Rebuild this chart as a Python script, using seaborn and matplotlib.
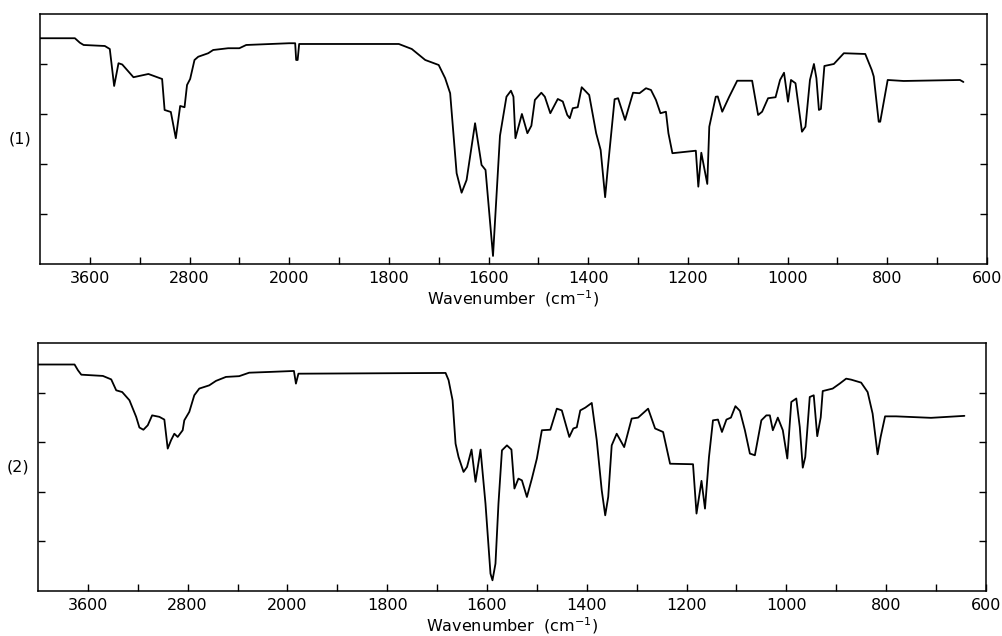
# %% Imports

import matplotlib.pyplot as plt
import numpy as np
import pandas as pd
import seaborn as sns

# %% Spectra (wavenumber in cm-1, transmittance in %)

W1 = [4000, 3720, 3680, 3650, 3480, 3440, 3405, 3370, 3340, 3250, 3130, 3020,
      3000, 2950, 2910, 2875, 2840, 2820, 2795, 2760, 2730, 2650, 2610, 2490,
      2400, 2345, 2000, 1988, 1986, 1983, 1980, 1780, 1754, 1727, 1700, 1687,
      1677, 1664, 1654, 1644, 1627, 1614, 1606, 1591, 1577, 1564, 1555, 1550,
      1546, 1533, 1522, 1514, 1507, 1494, 1487, 1476, 1461, 1451, 1442, 1437,
      1431, 1421, 1413, 1398, 1384, 1375, 1366, 1361, 1347, 1340, 1326, 1310,
      1297, 1284, 1274, 1264, 1255, 1244, 1239, 1231, 1184, 1179, 1173, 1161,
      1157, 1144, 1140, 1131, 1117, 1101, 1071, 1059, 1051, 1039, 1024, 1015,
      1007, 999, 993, 984, 971, 964, 955, 947, 942, 937, 933, 926, 907, 887,
      844, 831, 827, 817, 814, 799, 767, 654, 647]
T1 = [90.3, 90.3, 88.5, 87.6, 87.2, 86.0, 71.2, 80.3, 79.8, 74.7, 76.0, 74.0,
      61.6, 60.8, 50.3, 63.2, 62.7, 71.6, 74.0, 81.6, 82.9, 84.3, 85.6, 86.3,
      86.3, 87.6, 88.3, 88.3, 81.6, 81.6, 88.0, 88.0, 86.0, 81.6, 79.6, 74.3,
      68.3, 36.3, 28.5, 33.6, 56.3, 39.6, 37.6, 3.2, 51.3, 66.9, 69.3, 66.9,
      50.3, 60.0, 52.3, 55.3, 65.6, 68.5, 66.9, 60.3, 66.0, 65.0, 59.6, 58.3,
      62.3, 62.7, 70.7, 67.6, 52.3, 45.6, 26.7, 37.6, 65.9, 66.3, 57.6, 68.5,
      68.3, 70.3, 69.6, 65.6, 60.3, 60.9, 52.3, 44.3, 45.3, 30.9, 44.5, 32.0,
      54.9, 66.9, 67.0, 60.9, 66.9, 73.3, 73.3, 59.6, 60.9, 66.3, 66.7, 73.6,
      76.5, 64.9, 73.6, 72.3, 52.9, 54.9, 73.6, 80.0, 74.3, 61.6, 62.0, 79.2,
      80.0, 84.3, 84.0, 77.6, 75.0, 56.9, 56.9, 73.6, 73.2, 73.6, 72.8]

W2 = [4000, 3707, 3680, 3653, 3480, 3413, 3373, 3325, 3267, 3213, 3187, 3155,
      3120, 3085, 3027, 2987, 2960, 2933, 2907, 2880, 2840, 2827, 2787, 2747,
      2707, 2627, 2573, 2493, 2387, 2307, 2147, 1987, 1983, 1978, 1683, 1677,
      1669, 1663, 1657, 1647, 1640, 1631, 1623, 1613, 1603, 1593, 1589, 1583,
      1577, 1570, 1560, 1551, 1545, 1537, 1530, 1520, 1510, 1500, 1490, 1473,
      1460, 1450, 1435, 1427, 1420, 1413, 1403, 1390, 1380, 1370, 1363, 1357,
      1350, 1340, 1325, 1310, 1297, 1277, 1263, 1247, 1233, 1187, 1180, 1170,
      1163, 1155, 1147, 1137, 1129, 1120, 1111, 1102, 1093, 1083, 1073, 1063,
      1050, 1040, 1033, 1027, 1017, 1007, 998, 990, 980, 973, 967, 962, 953,
      945, 938, 931, 927, 907, 893, 880, 870, 850, 837, 827, 817, 811, 802,
      780, 710, 643]
T2 = [91.3, 91.3, 89.0, 87.2, 86.7, 85.3, 80.9, 80.2, 76.9, 70.2, 65.9, 65.0,
      66.8, 70.8, 70.2, 69.1, 57.4, 60.8, 63.4, 62.1, 64.8, 68.8, 72.2, 78.9,
      81.6, 82.9, 84.7, 86.3, 86.6, 88.0, 88.3, 88.7, 83.6, 87.6, 87.9, 85.0,
      76.9, 59.4, 54.0, 48.0, 50.0, 57.0, 44.0, 57.0, 35.2, 7.0, 4.3, 11.0,
      35.2, 56.7, 58.7, 57.0, 41.3, 45.3, 44.6, 37.9, 45.3, 53.4, 64.8, 65.0,
      73.5, 72.8, 62.1, 65.5, 66.0, 72.8, 73.9, 75.8, 60.8, 40.6, 30.5, 37.9,
      58.7, 63.4, 58.0, 69.5, 69.9, 73.5, 65.5, 64.1, 51.3, 51.1, 31.2, 44.4,
      33.2, 54.0, 68.8, 69.1, 64.1, 69.1, 69.9, 74.5, 72.6, 64.8, 55.4, 54.7,
      68.8, 70.8, 70.8, 64.8, 69.9, 64.8, 53.4, 76.2, 77.6, 66.1, 49.7, 54.0,
      78.2, 78.9, 62.4, 70.0, 80.6, 81.6, 83.6, 85.6, 85.2, 84.0, 80.2, 71.5,
      55.1, 62.0, 70.4, 70.4, 69.8, 70.6]

LABELED_TICKS = [3600, 2800, 2000, 1800, 1600, 1400, 1200, 1000, 800, 600]
MINOR_TICKS = [3200, 2400, 1900, 1700, 1500, 1300, 1100, 900, 700]
PANEL_LABELS = ["(1)", "(2)"]


# chart paper is compressed 4x above 2000 cm-1
def fwd(w):
    w = np.asarray(w, dtype=float)
    return np.where(w > 2000, 2000 + (w - 2000) / 4, w)


def inv(u):
    u = np.asarray(u, dtype=float)
    return np.where(u > 2000, 2000 + (u - 2000) * 4, u)


# %% Plot

sns.set_style("ticks")
plt.rcParams["font.family"] = ["DejaVu Sans"]
plt.rcParams["text.color"] = "black"
plt.rcParams["axes.labelcolor"] = "black"
plt.rcParams["xtick.color"] = "black"
plt.rcParams["ytick.color"] = "black"

fig = plt.figure(figsize=(10.03, 6.36), dpi=100)
ax1 = fig.add_axes([0.0399, 0.585, 0.944, 0.393])
ax2 = fig.add_axes([0.0379, 0.0708, 0.945, 0.390])

for ax, w, t, label in zip([ax1, ax2], [W1, W2], [T1, T2], PANEL_LABELS):
    df = pd.DataFrame({"w": w, "t": t})
    sns.lineplot(data=df, x="w", y="t", ax=ax, color="black", lw=1.3,
                 sort=False, estimator=None)
    ax.set_xscale("function", functions=(fwd, inv))
    ax.set_xlim(4000, 600)
    ax.set_ylim(0, 100)
    ax.set_xticks(LABELED_TICKS)
    ax.set_xticklabels([str(v) for v in LABELED_TICKS], fontsize=11.5)
    ax.set_xticks(MINOR_TICKS, minor=True)
    ax.set_yticks([20, 40, 60, 80])
    ax.set_yticklabels([])
    ax.tick_params(axis="x", which="both", direction="in", length=5,
                   width=1, pad=5, top=False)
    ax.tick_params(axis="y", direction="in", length=5, width=1,
                   left=True, right=True)
    ax.set_xlabel("Wavenumber  (cm$^{-1}$)", fontsize=11.5, labelpad=2)
    ax.set_ylabel("")
    for s in ax.spines.values():
        s.set_linewidth(1.1)
        s.set_color("black")
    ax.text(-0.021, 0.5, label, transform=ax.transAxes, ha="center",
            va="center", fontsize=11.5)

plt.savefig("out.png", dpi=100)
